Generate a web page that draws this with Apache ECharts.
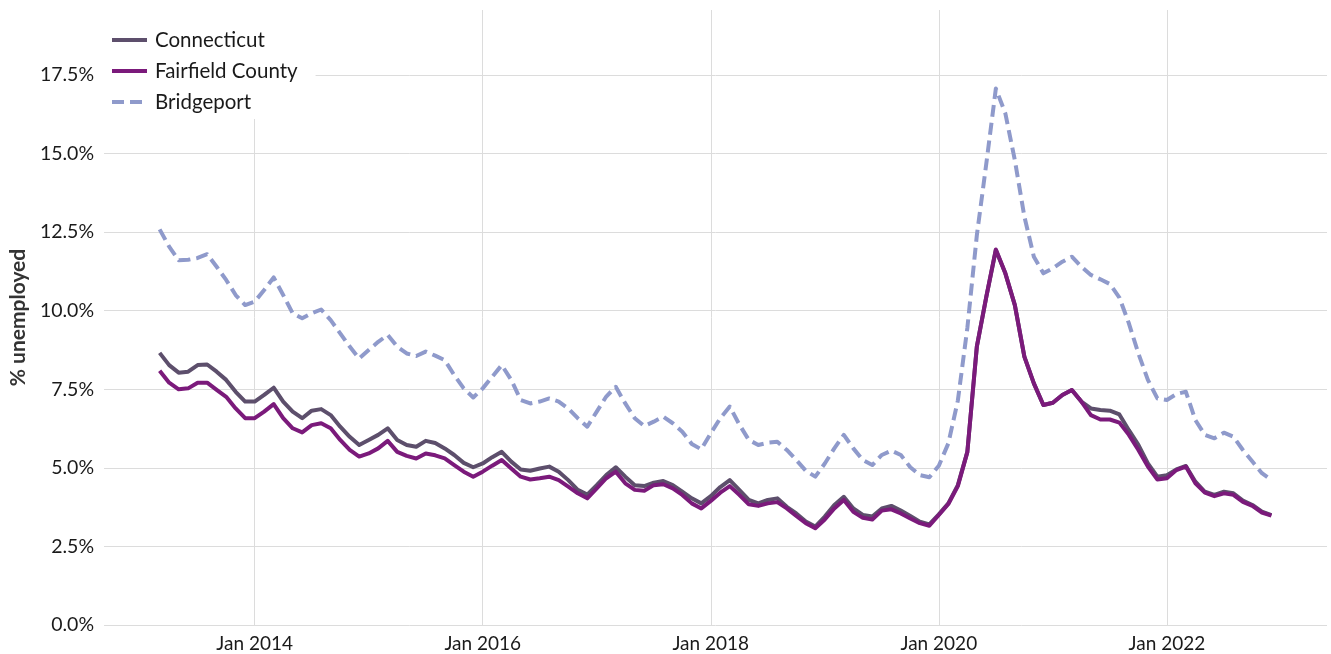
<!DOCTYPE html>
<html>
<head>
<meta charset="utf-8">
<title>Unemployment rate</title>
<script src="https://cdn.jsdelivr.net/npm/echarts@6/dist/echarts.min.js"></script>
<style>
  html, body { margin: 0; padding: 0; background: #fff; }
  #main { width: 1331px; height: 654px; }
</style>
</head>
<body>
<div id="main"></div>
<script>
// monthly, Mar 2013 .. Dec 2022 ; x = months counted from Jan 2014
var firstMonth = -10, nMonths = 118, baseYear = 2014;
var tickMonths = [0, 24, 48, 72, 96]; // Jan 2014 .. Jan 2022

var connecticut = [
  8.66, 8.27, 8.03, 8.06, 8.27, 8.29, 8.06, 7.80, 7.42, 7.11,
  7.11, 7.32, 7.55, 7.11, 6.79, 6.58, 6.82, 6.87, 6.68, 6.31,
  5.99, 5.73, 5.89, 6.05, 6.26, 5.89, 5.73, 5.67, 5.86, 5.79,
  5.62, 5.41, 5.16, 5.02, 5.14, 5.34, 5.51, 5.20, 4.95, 4.91,
  4.98, 5.04, 4.88, 4.61, 4.30, 4.15, 4.45, 4.77, 5.02, 4.72,
  4.45, 4.42, 4.53, 4.58, 4.45, 4.24, 4.03, 3.87, 4.10, 4.39,
  4.61, 4.30, 3.98, 3.87, 3.98, 4.03, 3.76, 3.55, 3.29, 3.13,
  3.45, 3.82, 4.08, 3.71, 3.50, 3.45, 3.71, 3.79, 3.64, 3.47,
  3.29, 3.20, 3.52, 3.87, 4.45, 5.51, 8.86, 10.45, 11.93, 11.19,
  10.18, 8.54, 7.69, 7.00, 7.07, 7.32, 7.48, 7.11, 6.89, 6.84,
  6.82, 6.70, 6.20, 5.73, 5.14, 4.72, 4.77, 4.95, 5.06, 4.56,
  4.24, 4.14, 4.24, 4.19, 3.96, 3.82, 3.61, 3.50
];

var fairfield = [
  8.09, 7.71, 7.50, 7.53, 7.71, 7.71, 7.48, 7.26, 6.89, 6.58,
  6.58, 6.79, 7.03, 6.58, 6.26, 6.13, 6.36, 6.42, 6.26, 5.89,
  5.57, 5.36, 5.46, 5.62, 5.86, 5.51, 5.38, 5.30, 5.46, 5.40,
  5.30, 5.09, 4.88, 4.72, 4.88, 5.07, 5.25, 4.98, 4.72, 4.63,
  4.67, 4.72, 4.61, 4.40, 4.19, 4.03, 4.35, 4.67, 4.88, 4.51,
  4.30, 4.27, 4.45, 4.48, 4.35, 4.14, 3.87, 3.71, 3.95, 4.21,
  4.42, 4.14, 3.84, 3.79, 3.87, 3.91, 3.71, 3.47, 3.24, 3.08,
  3.36, 3.71, 3.98, 3.60, 3.41, 3.36, 3.64, 3.68, 3.55, 3.39,
  3.24, 3.16, 3.50, 3.85, 4.42, 5.50, 8.86, 10.45, 11.95, 11.19,
  10.18, 8.54, 7.69, 7.00, 7.07, 7.32, 7.48, 7.11, 6.68, 6.54,
  6.54, 6.44, 6.05, 5.57, 5.04, 4.63, 4.67, 4.93, 5.04, 4.51,
  4.21, 4.10, 4.19, 4.14, 3.92, 3.79, 3.58, 3.48
];

var bridgeport = [
  12.59, 12.04, 11.61, 11.62, 11.68, 11.80, 11.40, 10.98, 10.50, 10.18,
  10.29, 10.66, 11.06, 10.50, 9.92, 9.76, 9.92, 10.04, 9.70, 9.28,
  8.86, 8.48, 8.75, 9.01, 9.23, 8.86, 8.64, 8.56, 8.70, 8.57,
  8.43, 7.95, 7.53, 7.24, 7.53, 7.90, 8.27, 7.80, 7.16, 7.05,
  7.11, 7.21, 7.11, 6.89, 6.58, 6.31, 6.79, 7.27, 7.58, 7.05,
  6.58, 6.33, 6.47, 6.63, 6.42, 6.15, 5.76, 5.59, 6.10, 6.58,
  6.95, 6.38, 5.89, 5.73, 5.80, 5.83, 5.57, 5.25, 4.91, 4.72,
  5.14, 5.62, 6.05, 5.62, 5.25, 5.09, 5.41, 5.55, 5.41, 5.02,
  4.77, 4.70, 5.07, 5.78, 7.14, 9.45, 12.40, 14.69, 17.07, 16.28,
  14.79, 13.00, 11.72, 11.19, 11.35, 11.56, 11.72, 11.40, 11.14, 11.00,
  10.85, 10.42, 9.60, 8.64, 7.80, 7.21, 7.16, 7.35, 7.42, 6.52,
  6.05, 5.94, 6.12, 5.99, 5.57, 5.20, 4.83, 4.61
];

var months = [];
for (var k = 0; k < nMonths; k++) months.push(firstMonth + k);

// 5% padding on both ends
var span = months[months.length - 1] - months[0];
var xMin = months[0] - span * 0.05;
var xMax = months[months.length - 1] + span * 0.05;

function pairs(vals) {
  return months.map(function (m, i) { return [m, vals[i]]; });
}

var FONT = 'Lato';
var chart = echarts.init(document.getElementById('main'), null, { renderer: 'canvas' });

var option = {
  backgroundColor: '#ffffff',
  animation: false,
  textStyle: { fontFamily: FONT },
  grid: { left: 102, right: 4, top: 10, bottom: 29 },
  legend: {
    left: 100,
    top: 10,
    orient: 'vertical',
    backgroundColor: '#ffffff',
    padding: [19, 18, 6, 10],
    itemWidth: 35,
    itemHeight: 14,
    itemGap: 9,
    itemStyle: { opacity: 0 },   // hide the round marker, keep the line
    lineStyle: { width: 4 },
    textStyle: { fontFamily: FONT, fontSize: 20.5, color: '#1a1a1a', lineHeight: 22, padding: [0, 0, 0, 3] },
    data: ['Connecticut', 'Fairfield County', 'Bridgeport'],
    z: 10
  },
  xAxis: {
    type: 'value',
    min: xMin,
    max: xMax,
    axisLine: { show: false },
    axisTick: { show: false, customValues: tickMonths },
    axisLabel: {
      customValues: tickMonths,
      fontFamily: FONT,
      fontSize: 19,
      color: '#1a1a1a',
      margin: 9,
      formatter: function (v) { return 'Jan ' + (baseYear + Math.round(v / 12)); }
    },
    splitLine: { show: true, lineStyle: { color: '#dcdcdc', width: 1 } }
  },
  yAxis: {
    type: 'value',
    min: 0,
    max: 19.57,
    interval: 2.5,
    name: '% unemployed',
    nameLocation: 'middle',
    nameGap: 74,
    nameTextStyle: { fontFamily: FONT, fontSize: 21, fontWeight: 'bold', color: '#333333' },
    axisLine: { show: false },
    axisTick: { show: false },
    axisLabel: {
      fontFamily: FONT,
      fontSize: 19.5,
      color: '#1a1a1a',
      margin: 10,
      showMaxLabel: false,
      formatter: function (v) { return v.toFixed(1) + '%'; }
    },
    splitLine: { show: true, showMaxLine: false, lineStyle: { color: '#dcdcdc', width: 1 } }
  },
  series: [
    {
      name: 'Connecticut',
      type: 'line',
      symbol: 'none',
      data: pairs(connecticut),
      itemStyle: { color: '#5d4f6c' },
      lineStyle: { color: '#5d4f6c', width: 4, join: 'round' }
    },
    {
      name: 'Fairfield County',
      type: 'line',
      symbol: 'none',
      data: pairs(fairfield),
      itemStyle: { color: '#7b1a7b' },
      lineStyle: { color: '#7b1a7b', width: 4, join: 'round' }
    },
    {
      name: 'Bridgeport',
      type: 'line',
      symbol: 'none',
      data: pairs(bridgeport),
      itemStyle: { color: '#8f9acb' },
      lineStyle: { color: '#8f9acb', width: 4, type: [12, 6], join: 'round' }
    }
  ]
};

chart.setOption(option);
</script>
</body>
</html>
